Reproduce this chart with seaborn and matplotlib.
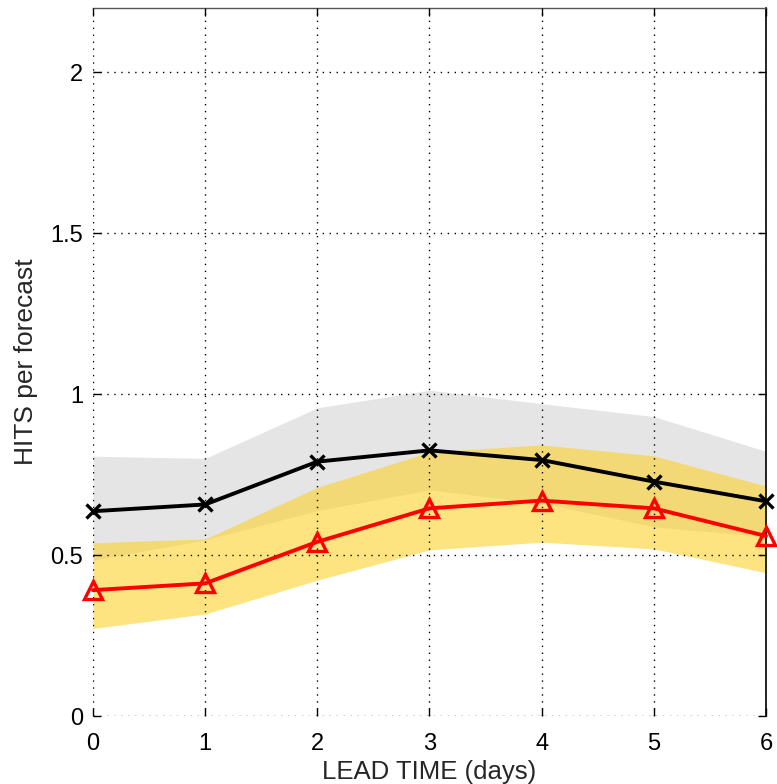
import matplotlib
matplotlib.use("Agg")
import matplotlib.pyplot as plt
import seaborn as sns
import pandas as pd

lead = [0, 1, 2, 3, 4, 5, 6]
black_vals = [0.636, 0.657, 0.790, 0.825, 0.795, 0.728, 0.667]
red_vals = [0.391, 0.412, 0.541, 0.645, 0.669, 0.645, 0.559]
grey_hi = [0.807, 0.800, 0.957, 1.012, 0.970, 0.930, 0.822]
grey_lo = [0.484, 0.547, 0.638, 0.702, 0.661, 0.588, 0.557]
yel_hi = [0.538, 0.550, 0.710, 0.820, 0.842, 0.808, 0.714]
yel_lo = [0.272, 0.317, 0.422, 0.516, 0.540, 0.519, 0.445]
xticks = [0, 1, 2, 3, 4, 5, 6]
yticks = [0, 0.5, 1, 1.5, 2]
ytick_labels = ["0", "0.5", "1", "1.5", "2"]

sns.set_style("white")
plt.rcParams['font.family'] = ['Liberation Sans', 'DejaVu Sans']

fig = plt.figure(figsize=(7.77, 7.84), dpi=100)
ax = fig.add_axes([0.1197, 0.0867, 0.8661, 0.9036])

ax.fill_between(lead, grey_lo, grey_hi, color="#e5e5e5", lw=0, zorder=1)
ax.fill_between(lead, yel_lo, yel_hi, color="#fcd22b", alpha=0.6, lw=0, zorder=2)

df = pd.DataFrame({"lead": lead, "black": black_vals, "red": red_vals})
sns.lineplot(data=df, x="lead", y="black", ax=ax, color="black", linewidth=2.8,
             marker="x", markersize=10, markeredgewidth=2.4,
             markeredgecolor="black", zorder=4, clip_on=False)
sns.lineplot(data=df, x="lead", y="red", ax=ax, color="red", linewidth=2.8,
             marker="^", markersize=13, markerfacecolor="none",
             markeredgecolor="red", markeredgewidth=2.4, zorder=4, clip_on=False)

ax.set_xlim(0, 6)
ax.set_ylim(0, 2.2)
ax.set_xticks(xticks)
ax.set_xticklabels([str(v) for v in xticks])
ax.set_yticks(yticks)
ax.set_yticklabels(ytick_labels)
ax.grid(True, linestyle=(0, (1, 4)), color="black", lw=1.0, zorder=3)
ax.set_axisbelow(False)
ax.tick_params(direction="in", length=6, width=1, labelsize=17,
               top=True, right=True, bottom=True, left=True, colors="black")
ax.tick_params(axis="x", pad=12)
ax.tick_params(axis="y", pad=7)
for s in ["left", "bottom"]:
    ax.spines[s].set_visible(False)
ax.spines["top"].set_color("#555555")
ax.spines["top"].set_linewidth(1.0)
ax.spines["right"].set_color("black")
ax.spines["right"].set_linewidth(1.2)

ax.set_xlabel("LEAD TIME (days)", fontsize=18.5, labelpad=4)
ax.set_ylabel("HITS per forecast", fontsize=19, labelpad=9)

fig.savefig("out.png", dpi=100)
